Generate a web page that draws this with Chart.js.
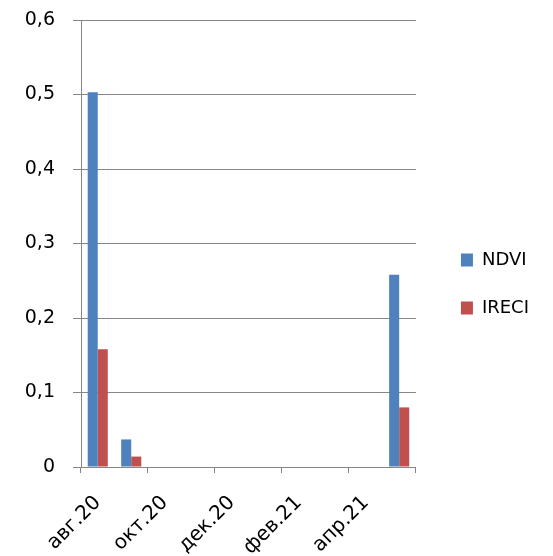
<!DOCTYPE html>
<html>
<head>
<meta charset="utf-8">
<script src="https://cdn.jsdelivr.net/npm/chart.js@4.4.1/dist/chart.umd.min.js"></script>
<style>
  html, body { margin: 0; padding: 0; background: #ffffff; }
</style>
</head>
<body>
<canvas id="myChart" width="553" height="556"></canvas>
<script>
// месяцы (ось дат, шаг подписи - 2 месяца)
let months = ['авг.20', 'сен.20', 'окт.20', 'ноя.20', 'дек.20',
              'янв.21', 'фев.21', 'мар.21', 'апр.21', 'май.21'];
let ndvi  = [0.503, 0.037, null, null, null, null, null, null, null, 0.258];
let ireci = [0.158, 0.014, null, null, null, null, null, null, null, 0.080];

let gridColor = '#868686';
let fontFamily = '"DejaVu Sans", sans-serif';

let myChart = document.getElementById('myChart');

let barChart = new Chart(myChart, {
    type: 'bar',
    data: {
        labels: months,
        datasets: [
            {
                label: 'NDVI',
                data: ndvi,
                backgroundColor: '#4F81BD',
                categoryPercentage: 0.6,
                barPercentage: 1.0
            },
            {
                label: 'IRECI',
                data: ireci,
                backgroundColor: '#C0504D',
                categoryPercentage: 0.6,
                barPercentage: 1.0
            }
        ]
    },
    options: {
        responsive: false,
        animation: false,
        devicePixelRatio: 1,
        layout: {
            padding: { left: 0, top: 20, right: 29, bottom: 0 }
        },
        scales: {
            x: {
                offset: true,
                grid: {
                    offset: true,
                    drawOnChartArea: false,
                    tickLength: 6,
                    // риски только через 2 месяца
                    color: ctx => (ctx.type === 'scale' || ctx.index % 2 === 0) ? gridColor : 'rgba(0,0,0,0)'
                },
                border: { color: gridColor },
                ticks: {
                    autoSkip: false,
                    minRotation: 45,
                    maxRotation: 45,
                    padding: 18,
                    color: '#000000',
                    font: { family: fontFamily, size: 20 },
                    callback: function(value, index) {
                        return index % 2 === 0 ? this.getLabelForValue(value) : '';
                    }
                },
                afterFit: function(scale) {
                    scale.height = 89;
                    scale.paddingLeft = 0;
                    scale.paddingRight = 0;
                }
            },
            y: {
                min: 0,
                max: 0.6,
                grid: {
                    color: gridColor,
                    tickLength: 8
                },
                border: { color: gridColor },
                ticks: {
                    stepSize: 0.1,
                    padding: 18,
                    color: '#000000',
                    font: { family: fontFamily, size: 19 },
                    callback: v => v === 0 ? '0' : v.toFixed(1).replace('.', ',')
                },
                afterFit: function(scale) {
                    scale.width = 81;
                    scale.paddingTop = 0;
                    scale.paddingBottom = 0;
                }
            }
        },
        plugins: {
            tooltip: { enabled: false },
            legend: {
                display: true,
                position: 'right',
                labels: {
                    boxWidth: 12,
                    boxHeight: 13,
                    padding: 30,
                    color: '#000000',
                    font: { family: fontFamily, size: 18 }
                }
            }
        }
    },
    plugins: [
        {
            // легенда чуть правее и выше, как в Excel
            id: 'legendShift',
            afterLayout: function(c) {
                c.legend.left += 15;
                c.legend.right += 15;
                c.legend.top -= 4;
                c.legend.bottom -= 4;
            }
        }
    ]
});
</script>
</body>
</html>
